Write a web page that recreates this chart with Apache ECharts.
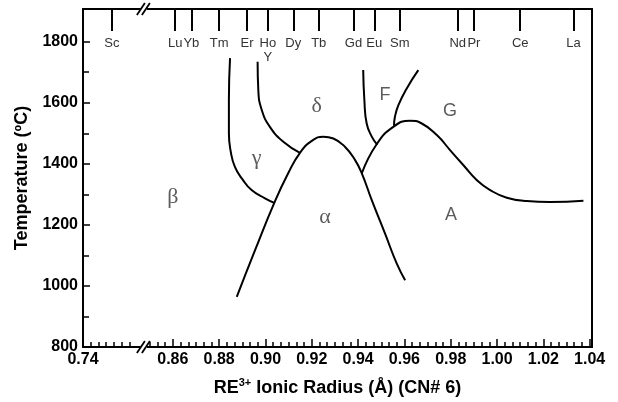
<!DOCTYPE html>
<html>
<head>
<meta charset="utf-8">
<script src="https://cdn.jsdelivr.net/npm/echarts@6/dist/echarts.min.js"></script>
<style>
  html, body { margin: 0; padding: 0; background: #fff; }
  #main { width: 618px; height: 402px; }
</style>
</head>
<body>
<div id="main"></div>
<script>
// phase boundaries, [ionic radius (Å), temperature (°C)]
var gammaBetaLine = [[0.8847, 1746], [0.8842, 1609], [0.8842, 1500], [0.8850, 1440], [0.8868, 1390], [0.8900, 1350], [0.8940, 1314], [0.8998, 1287], [0.9038, 1272]];
var gammaDeltaLine = [[0.8966, 1734], [0.8969, 1642], [0.8984, 1576], [0.9019, 1521], [0.9077, 1472], [0.9149, 1436]];
var alphaLine = [[0.8876, 964], [0.8955, 1117], [0.9038, 1272], [0.9098, 1369], [0.9149, 1436], [0.9200, 1475], [0.9250, 1489], [0.9293, 1483], [0.9343, 1456], [0.9387, 1412], [0.9416, 1369], [0.9459, 1281], [0.9516, 1172], [0.9567, 1073], [0.9603, 1019]];
var deltaFLine = [[0.9422, 1707], [0.9427, 1609], [0.9437, 1532], [0.9459, 1489], [0.9483, 1462]];
var gLine = [[0.9416, 1369], [0.9480, 1464], [0.9552, 1521], [0.9624, 1541], [0.9675, 1532], [0.9740, 1494], [0.9797, 1445], [0.9854, 1396], [0.9912, 1347], [0.9970, 1314], [1.0042, 1289], [1.0128, 1278], [1.0229, 1275], [1.0373, 1279]];
var fgLine = [[0.9660, 1707], [0.9610, 1647], [0.9574, 1592], [0.9559, 1554], [0.9555, 1525]];

// phase names
var greekPhases = [[0.860, 1291, 'β'], [0.8962, 1418, 'γ'], [0.9221, 1587, 'δ'], [0.9257, 1226, 'α']];
var latinPhases = [[0.9516, 1625, 'F'], [0.9797, 1573, 'G'], [0.9801, 1232, 'A']];

// rare earth ions along the top
var ionNames = ['Sc', 'Lu', 'Yb', 'Tm', 'Er', 'Ho\nY', 'Dy', 'Tb', 'Gd', 'Eu', 'Sm', 'Nd', 'Pr', 'Ce', 'La'];
var ionRadii = [0.745, 0.861, 0.868, 0.880, 0.892, 0.901, 0.912, 0.923, 0.938, 0.947, 0.958, 0.983, 0.990, 1.010, 1.033];

// axis ticks
var xLabels = [0.74, 0.86, 0.88, 0.90, 0.92, 0.94, 0.96, 0.98, 1.00, 1.02, 1.04];
var yLabels = [800, 1000, 1200, 1400, 1600, 1800];
var yMinor = [900, 1100, 1300, 1500, 1700];

// broken x axis: left part (0.74...) squeezed in before the break
var X_LEFT0 = 0.8212;
var X_MAX = 1.041;
var X_BREAK = 0.8475;
var Y_MAX = 1907;
function toX(r) {
  return r < 0.8 ? X_LEFT0 + (r - 0.74) * 2.5 : r;
}

var xMajor = xLabels.map(toX);
var xMinor = [];
for (var k = 1; k <= 6; k++) xMinor.push(X_LEFT0 + k / 300);
for (var k = 255; k <= 312; k++) if (k % 6) xMinor.push(k / 300);
var ionX = ionRadii.map(toX);

function curve(pts) {
  return {
    type: 'line',
    data: pts,
    smooth: 0.5,
    symbol: 'none',
    lineStyle: { color: '#000', width: 2 },
    silent: true
  };
}

var myChart = echarts.init(document.getElementById('main'));

var boldLabel = { fontFamily: 'Liberation Sans', fontWeight: 'bold', fontSize: 16, color: '#000' };

var option = {
  animation: false,
  grid: { left: 83, right: 26, top: 9, bottom: 55 },
  xAxis: [
    {
      type: 'value', position: 'bottom', min: X_LEFT0, max: X_MAX,
      axisLine: { lineStyle: { color: '#000', width: 2 } },
      axisTick: { inside: true, length: 8, customValues: xMajor.slice(1), lineStyle: { color: '#000', width: 1.5 } },
      axisLabel: Object.assign({
        customValues: xMajor, margin: 5,
        formatter: function (v) { return v < 0.85 ? '0.74' : v.toFixed(2); }
      }, boldLabel),
      splitLine: { show: false },
      name: '{b|RE}{sup|3+}{b| Ionic Radius (Å) (CN# 6)}',
      nameLocation: 'middle', nameGap: 30,
      nameTextStyle: {
        rich: {
          b: { fontFamily: 'Liberation Sans', fontWeight: 'bold', fontSize: 18, color: '#000', lineHeight: 22 },
          sup: { fontFamily: 'Liberation Sans', fontWeight: 'bold', fontSize: 11, color: '#000', lineHeight: 22, verticalAlign: 'top', padding: [0, 0, 8, 0] }
        }
      }
    },
    {
      type: 'value', position: 'bottom', min: X_LEFT0, max: X_MAX,
      axisLine: { show: false },
      axisTick: { inside: true, length: 5, customValues: xMinor, lineStyle: { color: '#000', width: 1.5 } },
      axisLabel: { show: false },
      splitLine: { show: false }
    },
    {
      type: 'value', position: 'top', min: X_LEFT0, max: X_MAX,
      axisLine: { lineStyle: { color: '#000', width: 2 } },
      axisTick: { inside: true, length: 22, customValues: ionX, lineStyle: { color: '#000', width: 2 } },
      axisLabel: {
        inside: true, margin: 27, customValues: ionX,
        fontFamily: 'Liberation Sans', fontSize: 13, color: '#333', lineHeight: 14,
        formatter: function (v) {
          for (var i = 0; i < ionX.length; i++) {
            if (Math.abs(ionX[i] - v) < 1e-6) return ionNames[i];
          }
          return '';
        }
      },
      splitLine: { show: false }
    }
  ],
  yAxis: [
    {
      type: 'value', position: 'left', min: 800, max: Y_MAX,
      axisLine: { lineStyle: { color: '#000', width: 2 } },
      axisTick: { inside: true, length: 7, customValues: yLabels, lineStyle: { color: '#000', width: 1.5 } },
      axisLabel: Object.assign({ customValues: yLabels, margin: 5, formatter: function (v) { return String(v); } }, boldLabel),
      splitLine: { show: false },
      name: 'Temperature (ºC)', nameLocation: 'middle', nameGap: 47,
      nameTextStyle: { fontFamily: 'Liberation Sans', fontWeight: 'bold', fontSize: 18, color: '#000' }
    },
    {
      type: 'value', position: 'left', min: 800, max: Y_MAX,
      axisLine: { show: false },
      axisTick: { inside: true, length: 6, customValues: yMinor, lineStyle: { color: '#000', width: 1.5 } },
      axisLabel: { show: false },
      splitLine: { show: false }
    },
    {
      type: 'value', position: 'right', min: 800, max: Y_MAX,
      axisLine: { show: true, lineStyle: { color: '#000', width: 2 } },
      axisTick: { show: false },
      axisLabel: { show: false },
      splitLine: { show: false }
    }
  ],
  series: [
    curve(gammaBetaLine),
    curve(gammaDeltaLine),
    curve(alphaLine),
    curve(deltaFLine),
    curve(gLine),
    curve(fgLine),
    {
      type: 'scatter', symbolSize: 0, silent: true,
      data: greekPhases,
      label: {
        show: true, position: 'inside', formatter: function (p) { return p.data[2]; },
        fontFamily: 'Liberation Serif', fontSize: 22, color: '#333'
      }
    },
    {
      type: 'scatter', symbolSize: 0, silent: true,
      data: latinPhases,
      label: {
        show: true, position: 'inside', formatter: function (p) { return p.data[2]; },
        fontFamily: 'Liberation Sans', fontSize: 18, color: '#333'
      }
    }
  ]
};

myChart.setOption(option);

// break marks "//" on the top and bottom axis lines
var bx = myChart.convertToPixel({ xAxisIndex: 0 }, X_BREAK);
var breakMarks = [];
[myChart.convertToPixel({ yAxisIndex: 0 }, Y_MAX), myChart.convertToPixel({ yAxisIndex: 0 }, 800)].forEach(function (y) {
  breakMarks.push({ type: 'rect', shape: { x: bx - 3, y: y - 2, width: 6, height: 4 }, style: { fill: '#fff' }, z: 100 });
  breakMarks.push({ type: 'line', shape: { x1: bx - 7, y1: y + 6, x2: bx + 1, y2: y - 6 }, style: { stroke: '#000', lineWidth: 1.8 }, z: 101 });
  breakMarks.push({ type: 'line', shape: { x1: bx - 2, y1: y + 6, x2: bx + 6, y2: y - 6 }, style: { stroke: '#000', lineWidth: 1.8 }, z: 101 });
});
myChart.setOption({ graphic: breakMarks });
</script>
</body>
</html>
